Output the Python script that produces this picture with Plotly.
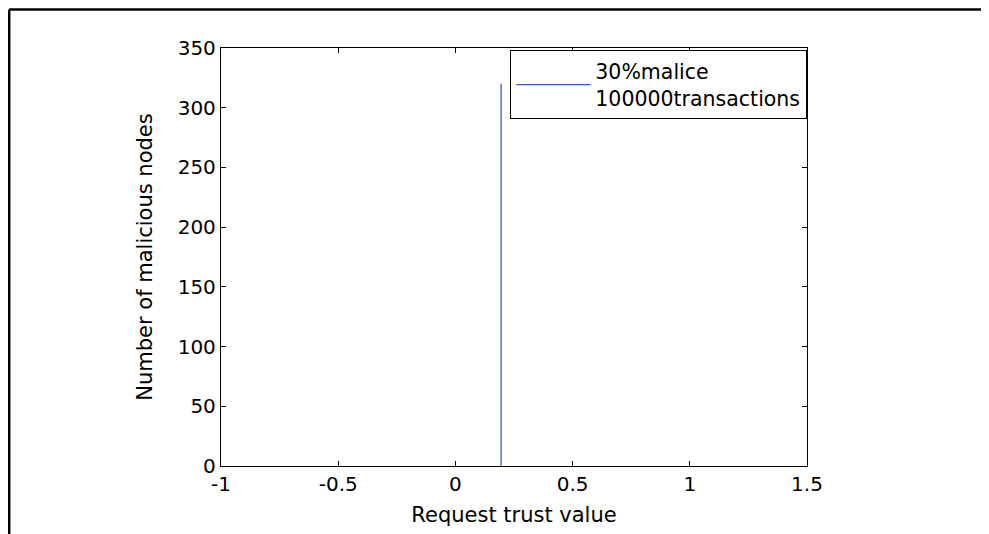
import plotly.graph_objects as go

# --- DATA ---
trust_value = [0.195, 0.195]
malicious_nodes = [0, 320]
series_name = "30%malice<br>100000transactions"

x_ticks = [-1, -0.5, 0, 0.5, 1, 1.5]
x_tick_labels = ["-1", "-0.5", "0", "0.5", "1", "1.5"]
y_ticks = [0, 50, 100, 150, 200, 250, 300, 350]

FONT = "DejaVu Sans, Arial, sans-serif"

fig = go.Figure()
fig.add_trace(go.Scatter(
    x=trust_value, y=malicious_nodes,
    mode="lines",
    name=series_name,
    line=dict(color="#3355cc", width=1.2),
))

axis_common = dict(
    showline=True, linecolor="black", linewidth=1.3, mirror="allticks",
    ticks="inside", ticklen=5, tickwidth=1, tickcolor="black",
    showgrid=False, zeroline=False,
    tickfont=dict(family=FONT, size=20, color="black"),
)

fig.update_xaxes(
    range=[-1, 1.5], tickvals=x_ticks, ticktext=x_tick_labels,
    title=dict(text="Request trust value", font=dict(family=FONT, size=21, color="black"), standoff=12),
    **axis_common,
)
fig.update_yaxes(
    range=[0, 350], tickvals=y_ticks,
    title=dict(text="Number of malicious nodes", font=dict(family=FONT, size=21, color="black"), standoff=19),
    **axis_common,
)

# outer frame (top and left edges only)
fig.add_shape(type="line", xref="paper", yref="paper",
              x0=-0.3614, x1=1.4, y0=1.092, y1=1.092,
              line=dict(color="black", width=2.5))
fig.add_shape(type="line", xref="paper", yref="paper",
              x0=-0.3614, x1=-0.3614, y0=1.092, y1=-0.3,
              line=dict(color="black", width=2.5))

fig.update_layout(
    width=989, height=534,
    margin=dict(l=213, r=190, t=40, b=76),
    paper_bgcolor="white", plot_bgcolor="white",
    font=dict(family=FONT, size=20, color="black"),
    showlegend=True,
    legend=dict(
        x=1, xanchor="right", y=0.995, yanchor="top",
        bgcolor="white", bordercolor="black", borderwidth=1.3,
        font=dict(family=FONT, size=20.5, color="black"),
        itemwidth=74, valign="middle",
    ),
)

fig.write_html("out.html")
